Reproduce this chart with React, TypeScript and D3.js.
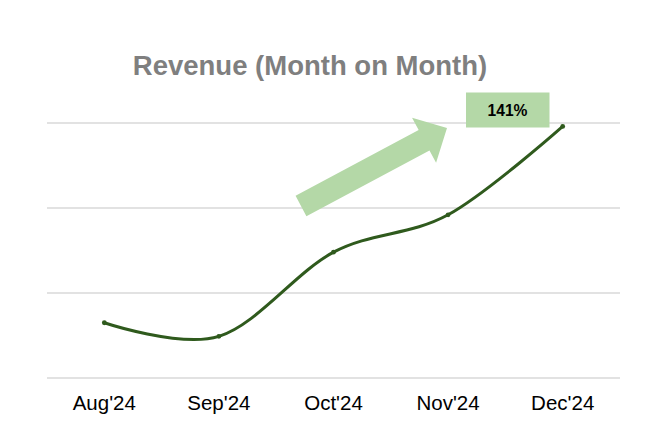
import React from "react";
import * as d3 from "d3";

// chart data
const months = ["Aug'24", "Sep'24", "Oct'24", "Nov'24", "Dec'24"];
const revenue = [0.65, 0.49, 1.48, 1.92, 2.96];
const gridValues = [0, 1, 2, 3];
const growthLabel = "141%";

function App() {
  const width = 664;
  const height = 446;
  const marginLeft = 47;
  const marginRight = 44;
  const marginTop = 123;
  const marginBottom = 68;

  const x = d3.scalePoint<string>()
    .domain(months)
    .range([marginLeft, width - marginRight])
    .padding(0.5);

  const y = d3.scaleLinear([0, 3], [height - marginBottom, marginTop]);

  const line = d3.line<number>()
    .x((d, i) => x(months[i])!)
    .y(d => y(d))
    .curve(d3.curveCardinal.tension(0));

  // arrow annotation (tail -> tip)
  const tail: [number, number] = [301, 206];
  const tip: [number, number] = [447, 128];
  const dx = tip[0] - tail[0], dy = tip[1] - tail[1];
  const len = Math.hypot(dx, dy);
  const ux = dx / len, uy = dy / len;
  const px = -uy, py = ux;
  const shaftW = 11.5, headW = 25.5, headL = 26;
  const bx = tip[0] - ux * headL, by = tip[1] - uy * headL;
  const arrowPts = [
    [tail[0] + px * shaftW, tail[1] + py * shaftW],
    [bx + px * shaftW, by + py * shaftW],
    [bx + px * headW, by + py * headW],
    tip,
    [bx - px * headW, by - py * headW],
    [bx - px * shaftW, by - py * shaftW],
    [tail[0] - px * shaftW, tail[1] - py * shaftW],
  ].map(p => p.join(",")).join(" ");

  return (
    <svg width={width} height={height} style={{ position: "absolute", left: 0, top: 0, background: "#fff" }}
      fontFamily="'Liberation Sans', Arial, sans-serif">
      <text x={310} y={75} textAnchor="middle" fontSize={27.5} fontWeight="bold" fill="#7f7f7f">
        Revenue (Month on Month)
      </text>

      {gridValues.map(v => (
        <line key={v} x1={marginLeft} x2={width - marginRight} y1={y(v)} y2={y(v)}
          stroke="#d9d9d9" strokeWidth={1.3} />
      ))}

      {months.map(m => (
        <text key={m} x={x(m)} y={410} textAnchor="middle" fontSize={20.5} fill="#000">{m}</text>
      ))}

      <polygon points={arrowPts} fill="#b4d8a7" />

      <rect x={466} y={92.5} width={83.5} height={35} fill="#b4d8a7" />
      <text x={507.5} y={116} textAnchor="middle" fontSize={15.6} fontWeight="bold" fill="#000">
        {growthLabel}
      </text>

      <path d={line(revenue)!} fill="none" stroke="#2f5a1d" strokeWidth={3} />
      {revenue.map((v, i) => (
        <circle key={i} cx={x(months[i])} cy={y(v)} r={2.4} fill="#2f5a1d" />
      ))}
    </svg>
  );
}

export default App;
